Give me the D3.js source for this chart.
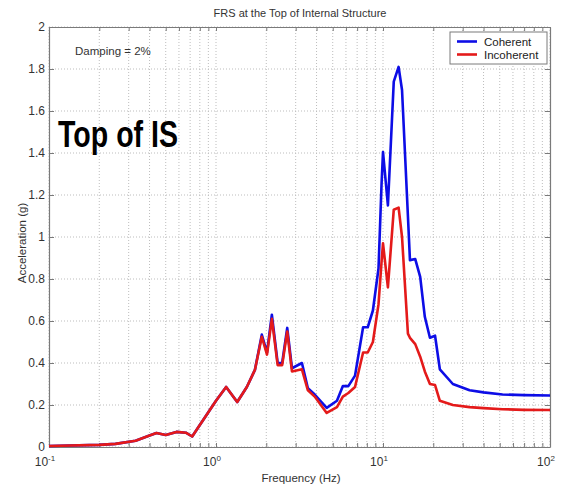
<!DOCTYPE html>
<html>
<head>
<meta charset="utf-8">
<script src="https://cdn.jsdelivr.net/npm/d3@7"></script>
<style>
  body { margin: 0; background: white; }
  svg { display: block; font-family: Arial, "Liberation Sans", sans-serif; }
</style>
</head>
<body>
<svg id="chart" width="573" height="491"></svg>
<script>
// Frequencies (Hz) and spectral accelerations (g)
var freq = [0.1, 0.2, 0.25, 0.33, 0.40, 0.44, 0.50, 0.58, 0.66, 0.72, 0.80, 0.84,
  1.0, 1.15, 1.34, 1.53, 1.71, 1.88, 2.02, 2.16, 2.34, 2.49, 2.67, 2.85, 3.27,
  3.55, 3.9, 4.6, 5.3, 5.75, 6.2, 6.8, 7.6, 8.1, 8.7, 9.4, 9.8, 10.0, 10.7, 11.6,
  12.4, 13.0, 14.1, 14.5, 15.6, 16.7, 17.8, 19.1, 20.5, 21.9, 26.2, 33, 40, 52, 70, 100];

var coherent = [0.005, 0.01, 0.015, 0.03, 0.055, 0.067, 0.057, 0.072, 0.068, 0.05, 0.105, 0.13,
  0.22, 0.286, 0.214, 0.286, 0.367, 0.535, 0.45, 0.63, 0.40, 0.40, 0.567, 0.375, 0.40,
  0.28, 0.25, 0.186, 0.22, 0.29, 0.29, 0.34, 0.57, 0.57, 0.65, 0.85, 1.25, 1.405, 1.15, 1.74,
  1.81, 1.70, 1.10, 0.89, 0.895, 0.81, 0.62, 0.52, 0.53, 0.37, 0.30, 0.27, 0.26, 0.25, 0.247, 0.245];

var incoherent = [0.005, 0.01, 0.015, 0.03, 0.055, 0.067, 0.057, 0.072, 0.068, 0.05, 0.105, 0.13,
  0.22, 0.286, 0.214, 0.286, 0.367, 0.525, 0.44, 0.61, 0.39, 0.39, 0.55, 0.36, 0.37,
  0.27, 0.24, 0.162, 0.19, 0.24, 0.257, 0.286, 0.45, 0.45, 0.50, 0.68, 0.88, 0.97, 0.76, 1.13,
  1.14, 1.0, 0.54, 0.52, 0.49, 0.43, 0.36, 0.30, 0.295, 0.22, 0.20, 0.19, 0.185, 0.18, 0.177, 0.176];

var yTicks = [0, 0.2, 0.4, 0.6, 0.8, 1, 1.2, 1.4, 1.6, 1.8, 2];
var xDecades = [-1, 0, 1, 2];
var seriesNames = ["Coherent", "Incoherent"];
var seriesColors = ["#0d0de6", "#e41a1a"];

var svg = d3.select("#chart");

// Plot box (note: "top" is taken by window.top, so prefix these)
var pLeft = 49, pRight = 550, pTop = 27, pBottom = 447;

var x = d3.scaleLog()
    .domain([0.1, 100])
    .range([pLeft, pRight]);

var y = d3.scaleLinear()
    .domain([0, 2])
    .range([pBottom, pTop]);

// Minor + major log ticks for the grid
var xGrid = [];
for (var d = -1; d < 2; d++) {
  for (var m = 1; m < 10; m++) xGrid.push(m * Math.pow(10, d));
}
xGrid.push(100);

var grid = svg.append("g").attr("class", "grid");

grid.selectAll("line.vx")
    .data(xGrid)
  .enter().append("line")
    .attr("class", "vx")
    .attr("x1", function(d) { return x(d); })
    .attr("x2", function(d) { return x(d); })
    .attr("y1", pTop)
    .attr("y2", pBottom)
    .attr("stroke", "#bdbdbd")
    .attr("stroke-dasharray", "1,2");

grid.selectAll("line.hy")
    .data(yTicks)
  .enter().append("line")
    .attr("class", "hy")
    .attr("x1", pLeft)
    .attr("x2", pRight)
    .attr("y1", function(d) { return y(d); })
    .attr("y2", function(d) { return y(d); })
    .attr("stroke", "#bdbdbd")
    .attr("stroke-dasharray", "1,2");

// Axes, ticks pointing inward like MATLAB
var axisColor = "#7a7a7a";

var xAxisB = d3.axisBottom(x).tickValues(xGrid).tickSizeInner(-4).tickSizeOuter(0).tickFormat("");
var xAxisT = d3.axisTop(x).tickValues(xGrid).tickSizeInner(-4).tickSizeOuter(0).tickFormat("");
var yAxisL = d3.axisLeft(y).tickValues(yTicks).tickSizeInner(-5).tickSizeOuter(0).tickFormat("");
var yAxisR = d3.axisRight(y).tickValues(yTicks).tickSizeInner(-5).tickSizeOuter(0).tickFormat("");

svg.append("g").attr("transform", "translate(0," + pBottom + ")").call(xAxisB);
svg.append("g").attr("transform", "translate(0," + pTop + ")").call(xAxisT);
svg.append("g").attr("transform", "translate(" + pLeft + ",0)").call(yAxisL);
svg.append("g").attr("transform", "translate(" + pRight + ",0)").call(yAxisR);

svg.selectAll(".domain, .tick line")
    .attr("stroke", axisColor);
svg.selectAll(".domain")
    .attr("stroke-width", 1.2);

// Y tick labels
svg.append("g")
  .selectAll("text")
    .data(yTicks)
  .enter().append("text")
    .attr("x", pLeft - 4)
    .attr("y", function(d) { return y(d) + 4; })
    .attr("text-anchor", "end")
    .attr("font-size", 12)
    .attr("fill", "#333")
    .text(function(d) { return d; });

// X tick labels 10^n
var xl = svg.append("g")
  .selectAll("text")
    .data(xDecades)
  .enter().append("text")
    .attr("x", function(d) { return x(Math.pow(10, d)) - 4; })
    .attr("y", pBottom + 19)
    .attr("text-anchor", "middle")
    .attr("font-size", 12)
    .attr("fill", "#333");
xl.append("tspan").text("10");
xl.append("tspan")
    .attr("dy", -5)
    .attr("font-size", 8)
    .text(function(d) { return d; });

// Curves
var line = d3.line()
    .x(function(d) { return x(d[0]); })
    .y(function(d) { return y(d[1]); });

var series = [coherent, incoherent];
series.forEach(function(vals, i) {
  svg.append("path")
      .datum(freq.map(function(f, j) { return [f, vals[j]]; }))
      .attr("fill", "none")
      .attr("stroke", seriesColors[i])
      .attr("stroke-width", 2.6)
      .attr("stroke-linejoin", "round")
      .attr("d", line);
});

// Titles and labels
svg.append("text")
    .attr("x", 300)
    .attr("y", 17)
    .attr("text-anchor", "middle")
    .attr("font-size", 11)
    .attr("fill", "#333")
    .text("FRS at the Top of Internal Structure");

svg.append("text")
    .attr("x", 301)
    .attr("y", 482)
    .attr("text-anchor", "middle")
    .attr("font-size", 11.5)
    .attr("fill", "#333")
    .text("Frequency (Hz)");

svg.append("text")
    .attr("transform", "translate(26,243) rotate(-90)")
    .attr("text-anchor", "middle")
    .attr("font-size", 11.5)
    .attr("fill", "#333")
    .text("Acceleration (g)");

svg.append("text")
    .attr("x", 75)
    .attr("y", 55)
    .attr("font-size", 11.5)
    .attr("fill", "#333")
    .text("Damping = 2%");

svg.append("text")
    .attr("x", 58)
    .attr("y", 147)
    .attr("font-size", 36)
    .attr("font-weight", "bold")
    .attr("font-family", "'Liberation Sans Narrow', 'Arial Narrow', Arial, sans-serif")
    .attr("textLength", 120)
    .attr("lengthAdjust", "spacingAndGlyphs")
    .attr("fill", "#000")
    .text("Top of IS");

// Legend
var legend = svg.append("g").attr("transform", "translate(450,32)");
legend.append("rect")
    .attr("width", 97)
    .attr("height", 32)
    .attr("fill", "white")
    .attr("stroke", axisColor);

seriesNames.forEach(function(name, i) {
  legend.append("line")
      .attr("x1", 7).attr("x2", 27)
      .attr("y1", 9.5 + i * 13).attr("y2", 9.5 + i * 13)
      .attr("stroke", seriesColors[i])
      .attr("stroke-width", 2.6);
  legend.append("text")
      .attr("x", 34)
      .attr("y", 14 + i * 13)
      .attr("font-size", 11.5)
      .attr("fill", "#222")
      .text(name);
});
</script>
</body>
</html>
